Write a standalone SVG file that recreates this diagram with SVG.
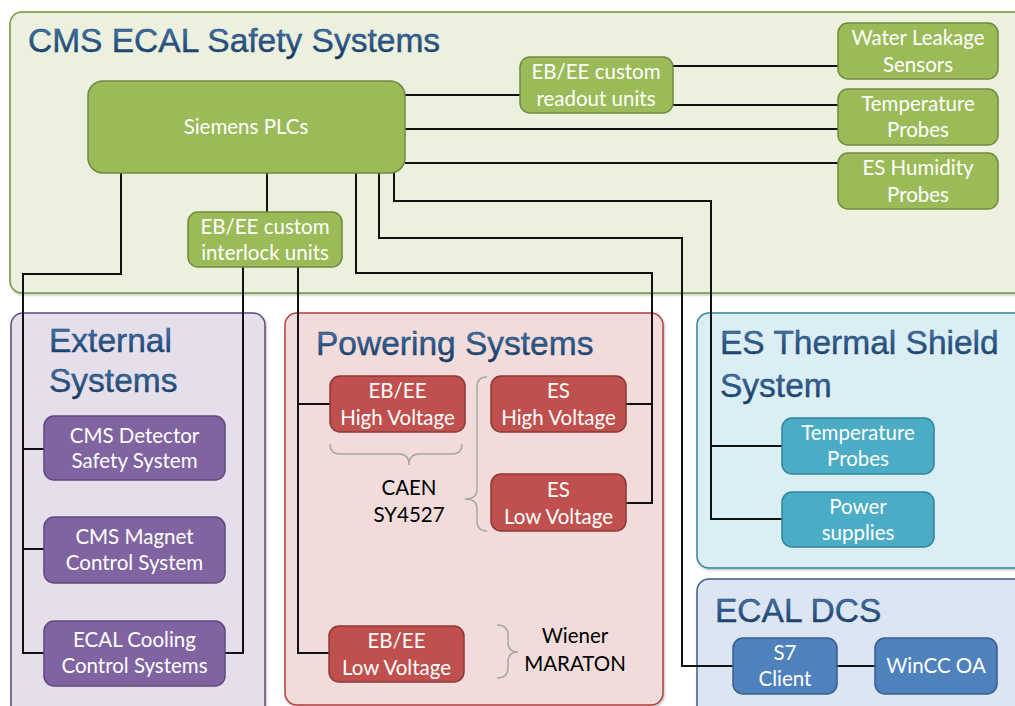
<svg xmlns="http://www.w3.org/2000/svg" width="1015" height="706" viewBox="0 0 1015 706">
<defs>
<linearGradient id="tg" x1="0" y1="0" x2="0" y2="1">
<stop offset="0" stop-color="#4F7FB5"/>
<stop offset="0.5" stop-color="#2B5A8E"/>
<stop offset="1" stop-color="#17375E"/>
</linearGradient>
<filter id="sh" x="-5%" y="-5%" width="110%" height="115%">
<feDropShadow dx="1" dy="1.5" stdDeviation="1.2" flood-color="#000" flood-opacity="0.25"/>
</filter>
</defs>
<style>
.title{font-family:"Liberation Sans",Arial,sans-serif;font-size:33.5px;fill:url(#tg);stroke:#1F3F66;stroke-width:0.4}
.nt{font-family:Lato,"Liberation Sans",sans-serif;font-size:20.5px;fill:#fff;text-anchor:middle}
.bt{font-family:Lato,"Liberation Sans",sans-serif;font-size:20.5px;fill:#000;text-anchor:middle}
.g{fill:#9BBB59;stroke:#71893F;stroke-width:1.5}
.p{fill:#8064A2;stroke:#5F497A;stroke-width:1.5}
.r{fill:#C0504D;stroke:#8C3836;stroke-width:1.5}
.t{fill:#4BACC6;stroke:#31859C;stroke-width:1.5}
.b{fill:#4F81BD;stroke:#385D8A;stroke-width:1.5}
.conn path{fill:none;stroke:#111;stroke-width:2}
.brace{fill:none;stroke:#A6A6A6;stroke-width:1.5}
</style>
<rect width="1015" height="706" fill="#fff"/>

<!-- containers -->
<g id="safety">
<rect x="10" y="12" width="1030" height="281" rx="12" fill="#EBF1DE" stroke="#77933C" stroke-width="1.5" filter="url(#sh)"/>
<text class="title" x="28" y="52">CMS ECAL Safety Systems</text>
</g>
<g id="external">
<rect x="11" y="313" width="254" height="410" rx="12" fill="#E5DFEC" stroke="#5F497A" stroke-width="1.5" filter="url(#sh)"/>
<text class="title" x="49" y="352">External</text>
<text class="title" x="49" y="392">Systems</text>
</g>
<g id="powering">
<rect x="285" y="313" width="378" height="392" rx="12" fill="#F2DCDB" stroke="#B03F3C" stroke-width="1.5" filter="url(#sh)"/>
<text class="title" x="316" y="355">Powering Systems</text>
</g>
<g id="thermal">
<rect x="697" y="313" width="340" height="255" rx="12" fill="#DAEEF3" stroke="#31859C" stroke-width="1.5" filter="url(#sh)"/>
<text class="title" x="720" y="354">ES Thermal Shield</text>
<text class="title" x="720" y="397">System</text>
</g>
<g id="dcs">
<rect x="697" y="579" width="340" height="160" rx="12" fill="#DCE6F2" stroke="#385D8A" stroke-width="1.5" filter="url(#sh)"/>
<text class="title" x="715" y="622">ECAL DCS</text>
</g>

<!-- connectors -->
<g id="connectors" class="conn">
<path d="M405,95 H520"/>
<path d="M405,129 H838"/>
<path d="M405,163 H838"/>
<path d="M673,66 H838"/>
<path d="M673,105 H838"/>
<path d="M267,173 V212"/>
<path d="M121,173 V274 H23 V653 H44"/>
<path d="M23,449 H44"/>
<path d="M23,549 H44"/>
<path d="M243,267 V653 H225"/>
<path d="M298,267 V653 H330"/>
<path d="M298,404 H330"/>
<path d="M356,173 V273 H652 V503 H626"/>
<path d="M652,404 H626"/>
<path d="M379,173 V238 H682 V666 H733"/>
<path d="M394,173 V201 H711 V519 H782"/>
<path d="M711,446 H782"/>
<path d="M836,666 H875"/>
</g>

<!-- nodes -->
<g id="plc"><rect class="g" x="88" y="81" width="317" height="92" rx="15"/><text class="nt" x="246" y="134">Siemens PLCs</text></g>
<g id="readout"><rect class="g" x="520" y="57" width="153" height="56" rx="10"/><text class="nt" x="596" y="79">EB/EE custom</text><text class="nt" x="596" y="106">readout units</text></g>
<g id="water"><rect class="g" x="838" y="23" width="160" height="56" rx="10"/><text class="nt" x="918" y="45">Water Leakage</text><text class="nt" x="918" y="72">Sensors</text></g>
<g id="tempprobes"><rect class="g" x="838" y="89" width="160" height="56" rx="10"/><text class="nt" x="918" y="111">Temperature</text><text class="nt" x="918" y="137">Probes</text></g>
<g id="humidity"><rect class="g" x="838" y="153" width="160" height="56" rx="10"/><text class="nt" x="918" y="175">ES Humidity</text><text class="nt" x="918" y="202">Probes</text></g>
<g id="interlock"><rect class="g" x="188" y="212" width="154" height="55" rx="10"/><text class="nt" x="265" y="234">EB/EE custom</text><text class="nt" x="265" y="260">interlock units</text></g>

<g id="dss"><rect class="p" x="44" y="416" width="181" height="64" rx="10"/><text class="nt" x="134.5" y="443">CMS Detector</text><text class="nt" x="134.5" y="468">Safety System</text></g>
<g id="magnet"><rect class="p" x="44" y="517" width="181" height="66" rx="10"/><text class="nt" x="134.5" y="544">CMS Magnet</text><text class="nt" x="134.5" y="570">Control System</text></g>
<g id="cooling"><rect class="p" x="44" y="621" width="181" height="65" rx="10"/><text class="nt" x="134.5" y="647">ECAL Cooling</text><text class="nt" x="134.5" y="673">Control Systems</text></g>

<g id="ebhv"><rect class="r" x="330" y="376" width="135" height="56" rx="10"/><text class="nt" x="397.5" y="398">EB/EE</text><text class="nt" x="397.5" y="425">High Voltage</text></g>
<g id="eshv"><rect class="r" x="491" y="376" width="135" height="56" rx="10"/><text class="nt" x="558.5" y="398">ES</text><text class="nt" x="558.5" y="425">High Voltage</text></g>
<g id="eslv"><rect class="r" x="491" y="474" width="135" height="57" rx="10"/><text class="nt" x="558.5" y="497">ES</text><text class="nt" x="558.5" y="524">Low Voltage</text></g>
<g id="eblv"><rect class="r" x="329" y="626" width="135" height="56" rx="10"/><text class="nt" x="396.5" y="648">EB/EE</text><text class="nt" x="396.5" y="675">Low Voltage</text></g>
<g id="caen">
<path class="brace" d="M330,444 Q330,454 340,454 L399,454 Q409,454 409,465 Q409,454 419,454 L452,454 Q462,454 462,444"/>
<path class="brace" d="M487,377 Q477,377 477,387 L477,489 Q477,499 465,499 Q477,499 477,509 L477,521 Q477,531 487,531"/>
<text class="bt" x="409" y="495">CAEN</text><text class="bt" x="409" y="522">SY4527</text>
</g>
<g id="wiener">
<path class="brace" d="M497,625 Q508,625 508,635 L508,642 Q508,652 518,652 Q508,652 508,662 L508,668 Q508,678 497,678"/>
<text class="bt" x="575" y="643">Wiener</text><text class="bt" x="575" y="671">MARATON</text>
</g>

<g id="estemp"><rect class="t" x="782" y="418" width="152" height="56" rx="10"/><text class="nt" x="858" y="440">Temperature</text><text class="nt" x="858" y="466">Probes</text></g>
<g id="espower"><rect class="t" x="782" y="492" width="152" height="55" rx="10"/><text class="nt" x="858" y="514">Power</text><text class="nt" x="858" y="540">supplies</text></g>

<g id="s7"><rect class="b" x="733" y="638" width="104" height="56" rx="10"/><text class="nt" x="785" y="660">S7</text><text class="nt" x="785" y="686">Client</text></g>
<g id="wincc"><rect class="b" x="875" y="638" width="122" height="56" rx="10"/><text class="nt" x="936" y="673">WinCC OA</text></g>
</svg>
